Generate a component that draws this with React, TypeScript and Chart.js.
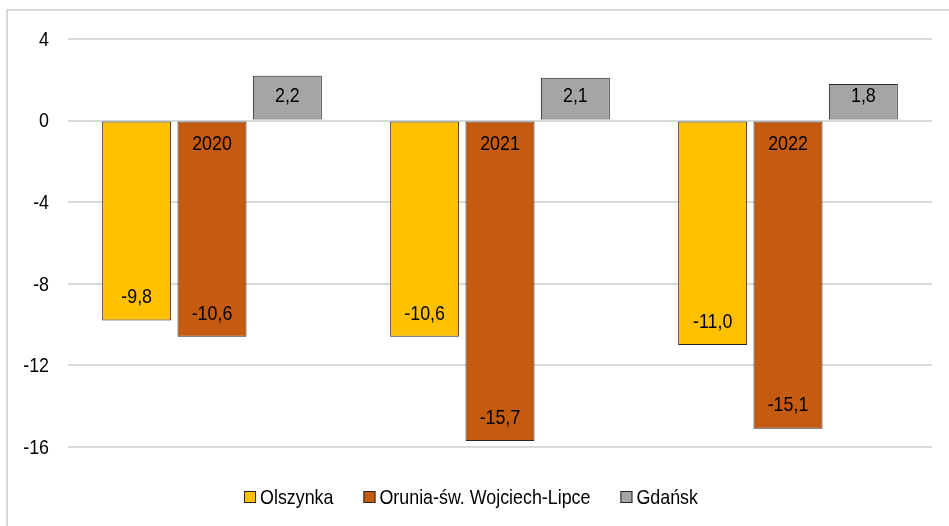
import React, { useEffect, useRef } from 'react';
import { Chart, registerables } from 'chart.js';

Chart.register(...registerables);

const categories = ['2020', '2021', '2022'];
const olszynka = [-9.8, -10.6, -11.0];
const orunia = [-10.6, -15.7, -15.1];
const gdansk = [2.2, 2.1, 1.8];
const seriesNames = ['Olszynka', 'Orunia-św. Wojciech-Lipce', 'Gdańsk'];
const seriesColors = ['#FFC000', '#C55A11', '#A5A5A5'];
const yTicks = [4, 0, -4, -8, -12, -16];

const FONT_FAMILY = "'Liberation Sans', Arial, sans-serif";
const FONT_SIZE = 21;
const SCALE_X = 0.85;
const BORDER = '#262626';

function drawText(ctx: CanvasRenderingContext2D, text: string, x: number, y: number, align: CanvasTextAlign) {
  ctx.save();
  ctx.translate(x, y);
  ctx.scale(SCALE_X, 1);
  ctx.textAlign = align;
  ctx.textBaseline = 'middle';
  ctx.fillText(text, 0, 0);
  ctx.restore();
}

function measure(ctx: CanvasRenderingContext2D, text: string) {
  return ctx.measureText(text).width * SCALE_X;
}

const textLabels = {
  id: 'textLabels',
  afterDatasetsDraw(chart: any) {
    const ctx = chart.ctx as CanvasRenderingContext2D;
    const xScale = chart.scales.x;
    const yScale = chart.scales.y;
    ctx.save();
    ctx.font = `${FONT_SIZE}px ${FONT_FAMILY}`;
    ctx.fillStyle = '#000';

    // value labels
    chart.data.datasets.forEach((ds: any, i: number) => {
      const meta = chart.getDatasetMeta(i);
      meta.data.forEach((el: any, j: number) => {
        const v = ds.data[j] as number;
        const { x, y, base } = el.getProps(['x', 'y', 'base'], true);
        const ly = v < 0 ? y - 23 : Math.min(y + 22, base - 23);
        drawText(ctx, v.toFixed(1).replace('.', ','), x, ly, 'center');
      });
    });

    // y tick labels
    yScale.ticks.forEach((t: any) => {
      drawText(ctx, String(t.value), chart.chartArea.left - 19, yScale.getPixelForValue(t.value) + 1, 'right');
    });

    // category labels next to the zero line
    const y0 = yScale.getPixelForValue(0);
    categories.forEach((c, i) => {
      drawText(ctx, c, xScale.getPixelForValue(i), y0 + 24, 'center');
    });

    // legend
    const box = 12;
    const gap = 4;
    const spacing = 30;
    const widths = seriesNames.map((n) => measure(ctx, n));
    const total = widths.reduce((a, w) => a + box + gap + w, 0) + spacing * (seriesNames.length - 1);
    let lx = 471 - total / 2;
    const cy = 497;
    seriesNames.forEach((name, i) => {
      ctx.fillStyle = seriesColors[i];
      ctx.fillRect(lx, cy - 6, box, box);
      ctx.strokeStyle = BORDER;
      ctx.lineWidth = 1;
      ctx.strokeRect(lx + 0.5, cy - 5.5, box - 1, box - 1);
      ctx.fillStyle = '#000';
      drawText(ctx, name, lx + box + gap, cy + 1, 'left');
      lx += box + gap + widths[i] + spacing;
    });
    ctx.restore();
  },
};

export default function App() {
  const canvasRef = useRef<HTMLCanvasElement | null>(null);

  useEffect(() => {
    if (!canvasRef.current) return;
    const chart = new Chart(canvasRef.current, {
      type: 'bar',
      data: {
        labels: categories,
        datasets: [olszynka, orunia, gdansk].map((d, i) => ({
          label: seriesNames[i],
          data: d,
          backgroundColor: seriesColors[i],
          borderColor: BORDER,
          borderWidth: 1,
          borderSkipped: false,
          barPercentage: 0.915,
          categoryPercentage: 0.785,
        })),
      },
      options: {
        animation: false,
        responsive: true,
        maintainAspectRatio: false,
        layout: { padding: { left: 0, right: 17, top: 39, bottom: 79 } },
        plugins: {
          legend: { display: false },
          tooltip: { enabled: false },
        },
        scales: {
          x: {
            display: true,
            grid: { display: false, drawTicks: false },
            border: { display: false },
            ticks: { display: false },
            afterFit: (scale: any) => {
              scale.height = 0;
            },
          },
          y: {
            min: -16,
            max: 4,
            afterBuildTicks: (scale: any) => {
              scale.ticks = yTicks.map((v) => ({ value: v }));
            },
            afterFit: (scale: any) => {
              scale.width = 68;
            },
            grid: { color: '#d9d9d9', lineWidth: 2, drawTicks: false },
            border: { display: false },
            ticks: { display: false },
          },
        },
      },
      plugins: [textLabels],
    });
    return () => chart.destroy();
  }, []);

  return (
    <>
      <div
        style={{
          position: 'fixed',
          left: 6,
          top: 9,
          right: 0,
          bottom: 0,
          borderLeft: '2px solid #d9d9d9',
          borderTop: '2px solid #d9d9d9',
        }}
      />
      <div style={{ position: 'fixed', left: 0, top: 0, width: 949, height: 526 }}>
        <canvas ref={canvasRef} />
      </div>
    </>
  );
}
